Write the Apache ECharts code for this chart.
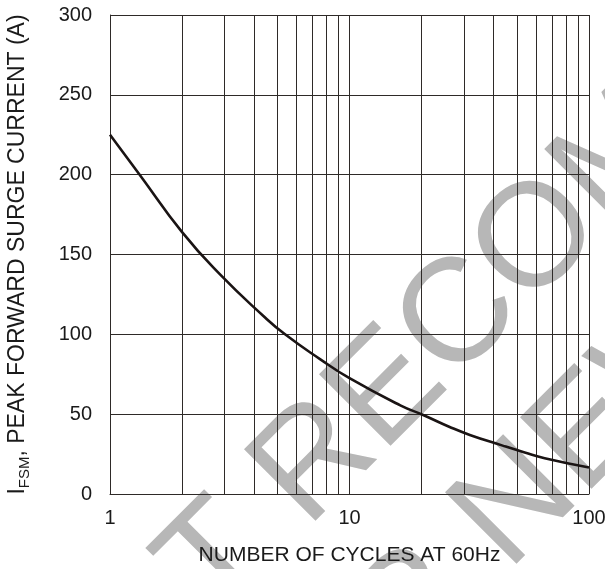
<!DOCTYPE html>
<html>
<head>
<meta charset="utf-8">
<script src="https://cdn.jsdelivr.net/npm/echarts@6/dist/echarts.min.js"></script>
<style>
html,body{margin:0;padding:0;background:#fff;}
#chart{width:605px;height:569px;}
</style>
</head>
<body>
<div id="chart"></div>
<script>
// Data
var cycles = [1, 1.33, 2, 2.88, 4.37, 5.38, 7.53, 10, 16.3, 20.3, 26.2, 31.8, 43.6, 53.9, 65.3, 100];
var surgeCurrent = [225, 200, 164, 137.5, 111.5, 100, 84.5, 72.5, 55.5, 49.5, 42, 37, 30.3, 26, 22.4, 16.6];
var minorGridX = [2, 3, 4, 5, 6, 7, 8, 9, 20, 30, 40, 50, 60, 70, 80, 90];
var yTicks = [0, 50, 100, 150, 200, 250, 300];
var watermarkLines = ['NOT RECOMMENDED', 'FOR NEW DESIGN'];

var FONT = '"Liberation Sans", Arial, sans-serif';
var gridColor = '#2e2a28';
var textColor = '#1a1a1a';

var chart = echarts.init(document.getElementById('chart'), null, {renderer: 'canvas'});

var points = cycles.map(function (c, i) { return [c, surgeCurrent[i]]; });

var option = {
  backgroundColor: '#ffffff',
  animation: false,
  grid: {left: 110, top: 15, right: 16, bottom: 75, containLabel: false, outerBoundsMode: 'none'},
  graphic: [
    {
      type: 'text', z: -10, x: 30, y: 749, rotation: Math.PI / 4,
      style: {text: watermarkLines[0], font: '147px ' + FONT, fill: '#b7b7b7', align: 'left', verticalAlign: 'middle'}
    },
    {
      type: 'text', z: -10, x: 231, y: 792, rotation: Math.PI / 4,
      style: {text: watermarkLines[1], font: '147px ' + FONT, fill: '#b7b7b7', align: 'left', verticalAlign: 'middle'}
    }
  ],
  xAxis: {
    type: 'log',
    logBase: 10,
    min: 1,
    max: 100,
    name: 'NUMBER OF CYCLES AT 60Hz',
    nameLocation: 'middle',
    nameGap: 51,
    nameTextStyle: {fontFamily: FONT, fontSize: 21, color: textColor},
    axisLine: {show: true, lineStyle: {color: gridColor, width: 1}},
    axisTick: {show: false},
    axisLabel: {fontFamily: FONT, fontSize: 20, color: textColor, margin: 14,
      formatter: function (v) { return String(v); }},
    splitLine: {show: true, lineStyle: {color: gridColor, width: 1}},
    minorTick: {show: false},
    minorSplitLine: {show: false}
  },
  yAxis: {
    type: 'value',
    min: 0,
    max: 300,
    interval: 50,
    name: '{i|I}{sub|FSM}{n|, PEAK FORWARD SURGE CURRENT (A)}',
    nameLocation: 'middle',
    nameGap: 78,
    nameRotate: 90,
    nameTextStyle: {
      rich: {
        i: {fontFamily: FONT, fontSize: 23, color: textColor, lineHeight: 28, verticalAlign: 'middle'},
        sub: {fontFamily: FONT, fontSize: 15, color: textColor, lineHeight: 28, verticalAlign: 'bottom', padding: [9, 0, 0, 0]},
        n: {fontFamily: FONT, fontSize: 23, color: textColor, lineHeight: 28, verticalAlign: 'middle'}
      }
    },
    axisLine: {show: true, lineStyle: {color: gridColor, width: 1}},
    axisTick: {show: false},
    axisLabel: {fontFamily: FONT, fontSize: 20, color: textColor, margin: 18,
      formatter: function (v) { return yTicks.indexOf(v) >= 0 ? String(v) : ''; }},
    splitLine: {show: true, lineStyle: {color: gridColor, width: 1}}
  },
  series: [
    {
      type: 'line',
      data: points,
      smooth: 0.5,
      symbol: 'none',
      lineStyle: {color: '#1a1414', width: 2.6},
      z: 5,
      markLine: {
        silent: true,
        symbol: ['none', 'none'],
        label: {show: false},
        lineStyle: {color: gridColor, width: 1, type: 'solid'},
        emphasis: {disabled: true},
        data: minorGridX.map(function (v) { return {xAxis: v}; })
      }
    }
  ]
};
chart.setOption(option);
</script>
</body>
</html>
